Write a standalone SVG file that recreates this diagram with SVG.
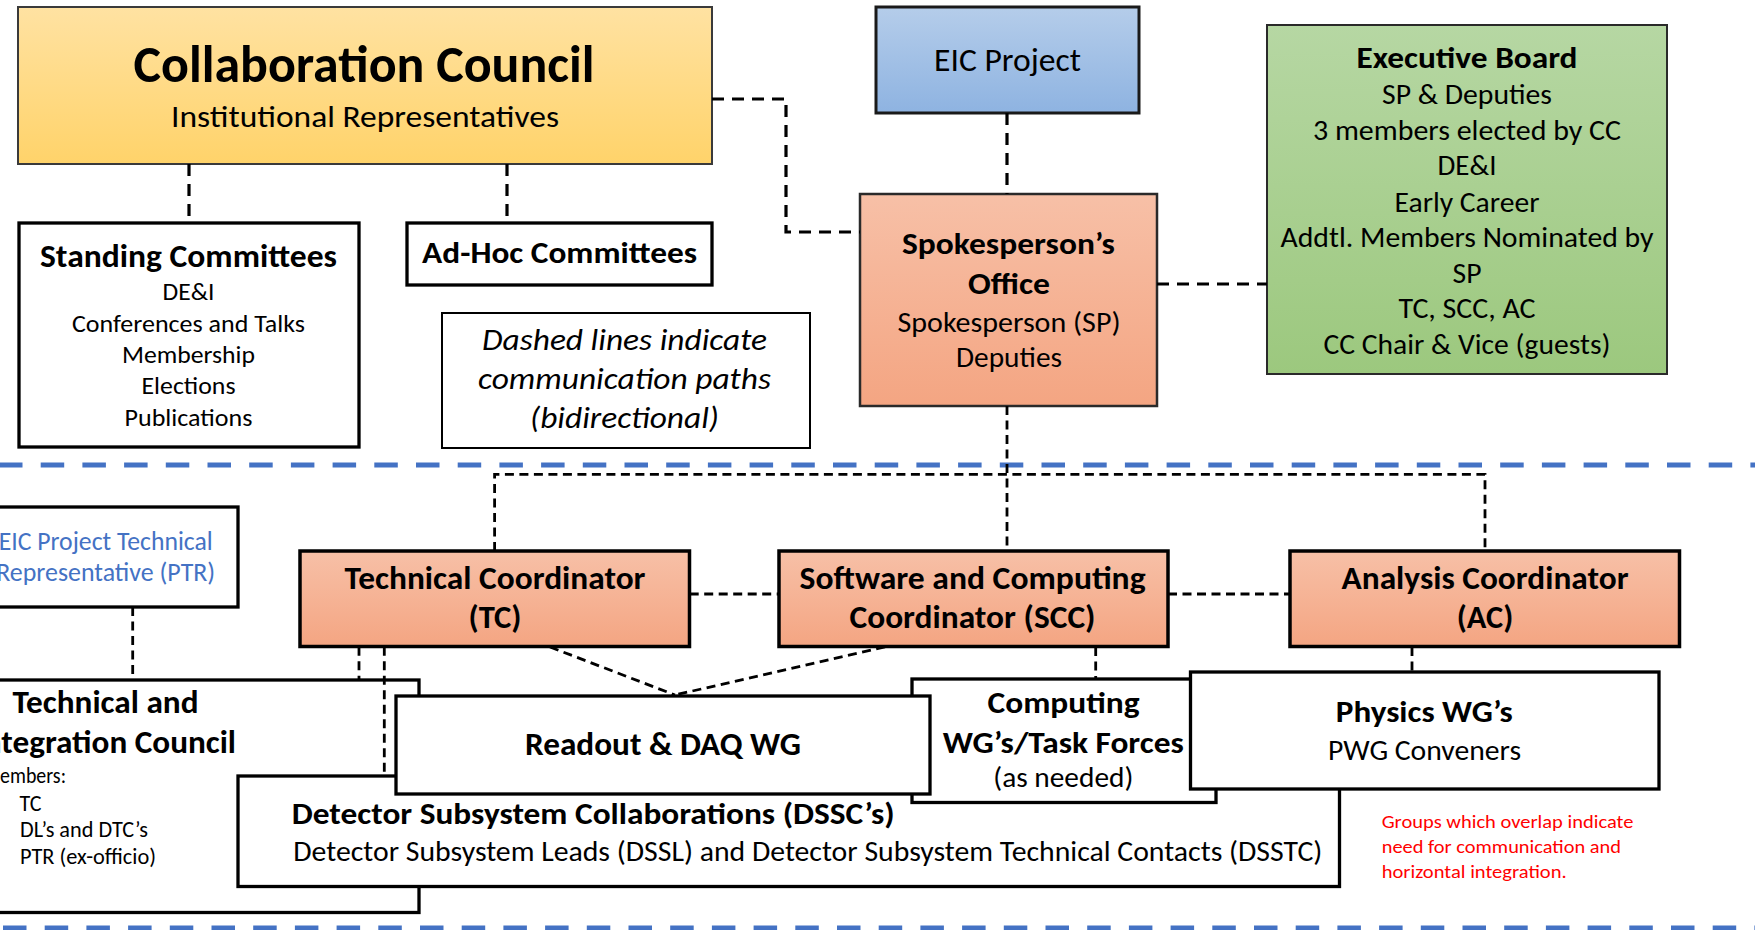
<svg xmlns="http://www.w3.org/2000/svg" width="1755" height="930" viewBox="0 0 1755 930">
<defs>
<linearGradient id="gGold" x1="0" y1="0" x2="0" y2="1"><stop offset="0" stop-color="#FFE2A2"/><stop offset="1" stop-color="#FFD36A"/></linearGradient>
<linearGradient id="gBlue" x1="0" y1="0" x2="0" y2="1"><stop offset="0" stop-color="#B5CDEA"/><stop offset="1" stop-color="#8EB3E1"/></linearGradient>
<linearGradient id="gSalmon" x1="0" y1="0" x2="0" y2="1"><stop offset="0" stop-color="#F7C0A7"/><stop offset="1" stop-color="#F4A582"/></linearGradient>
<linearGradient id="gGreen" x1="0" y1="0" x2="0" y2="1"><stop offset="0" stop-color="#B6D7A3"/><stop offset="1" stop-color="#9CC87E"/></linearGradient>
</defs>
<style>
text{font-family:Carlito,'Open Sans','Liberation Sans',sans-serif;fill:#000;}
.b{font-weight:bold;}
.c{text-anchor:middle;}
.i{font-style:italic;}
.box{fill:#fff;stroke:#000;stroke-width:3.3;}
.sal{fill:url(#gSalmon);stroke:#000;stroke-width:3.5;}
.dashA{fill:none;stroke:#000;stroke-width:3.2;stroke-dasharray:12 8;}
.dashB{fill:none;stroke:#000;stroke-width:2.8;stroke-dasharray:9 5.5;}
.sep{fill:none;stroke:#4472C4;stroke-width:5;stroke-dasharray:23.5 18.2;}
.ptr{fill:#4472C4;}
.red{fill:#FF0000;}
</style>
<rect width="1755" height="930" fill="#fff"/>

<g id="separators">
<line class="sep" x1="-1" y1="465" x2="1755" y2="465"/>
<line class="sep" x1="3" y1="928" x2="1755" y2="928"/>
</g>

<g id="collaboration-council">
<rect x="18" y="7" width="694" height="157" fill="url(#gGold)" stroke="#3a3a3a" stroke-width="2"/>
<text class="b c" x="364" y="82" font-size="53" textLength="461" lengthAdjust="spacingAndGlyphs">Collaboration Council</text>
<text class="c" x="365" y="127" font-size="30" textLength="388" lengthAdjust="spacingAndGlyphs">Institutional Representatives</text>
</g>

<g id="eic-project">
<rect x="876" y="7" width="263" height="106" fill="url(#gBlue)" stroke="#1a1a1a" stroke-width="3"/>
<text class="c" x="1007.5" y="71" font-size="32" textLength="147" lengthAdjust="spacingAndGlyphs">EIC Project</text>
</g>

<g id="spokespersons-office">
<rect x="860" y="194" width="297" height="212" fill="url(#gSalmon)" stroke="#2a2a2a" stroke-width="2.5"/>
<text class="b c" x="1008.5" y="254" font-size="31" textLength="213" lengthAdjust="spacingAndGlyphs">Spokesperson’s</text>
<text class="b c" x="1009" y="294" font-size="31" textLength="82" lengthAdjust="spacingAndGlyphs">Office</text>
<text class="c" x="1009" y="332" font-size="29" textLength="223" lengthAdjust="spacingAndGlyphs">Spokesperson (SP)</text>
<text class="c" x="1009" y="367" font-size="29" textLength="106" lengthAdjust="spacingAndGlyphs">Deputies</text>
</g>

<g id="executive-board">
<rect x="1267" y="25" width="400" height="349" fill="url(#gGreen)" stroke="#2a2a2a" stroke-width="2"/>
<text class="b c" x="1467" y="68" font-size="31" textLength="221" lengthAdjust="spacingAndGlyphs">Executive Board</text>
<text class="c" x="1467" y="104" font-size="28" textLength="170" lengthAdjust="spacingAndGlyphs">SP &amp; Deputies</text>
<text class="c" x="1467" y="140" font-size="28" textLength="308" lengthAdjust="spacingAndGlyphs">3 members elected by CC</text>
<text class="c" x="1467" y="175" font-size="28" textLength="59" lengthAdjust="spacingAndGlyphs">DE&amp;I</text>
<text class="c" x="1467" y="212" font-size="28" textLength="145" lengthAdjust="spacingAndGlyphs">Early Career</text>
<text class="c" x="1467" y="247" font-size="28" textLength="373" lengthAdjust="spacingAndGlyphs">Addtl. Members Nominated by</text>
<text class="c" x="1467" y="283" font-size="28" textLength="29" lengthAdjust="spacingAndGlyphs">SP</text>
<text class="c" x="1467" y="318" font-size="28" textLength="137" lengthAdjust="spacingAndGlyphs">TC, SCC, AC</text>
<text class="c" x="1467" y="354" font-size="28" textLength="287" lengthAdjust="spacingAndGlyphs">CC Chair &amp; Vice (guests)</text>
</g>

<g id="standing-committees">
<rect class="box" x="19" y="223" width="340" height="224"/>
<text class="b c" x="188.5" y="267" font-size="32" textLength="297" lengthAdjust="spacingAndGlyphs">Standing Committees</text>
<text class="c" x="188.5" y="300" font-size="23.5" textLength="52" lengthAdjust="spacingAndGlyphs">DE&amp;I</text>
<text class="c" x="188.5" y="332" font-size="23.5" textLength="233" lengthAdjust="spacingAndGlyphs">Conferences and Talks</text>
<text class="c" x="188.5" y="363" font-size="23.5" textLength="133" lengthAdjust="spacingAndGlyphs">Membership</text>
<text class="c" x="188.5" y="394" font-size="23.5" textLength="94" lengthAdjust="spacingAndGlyphs">Elections</text>
<text class="c" x="188.5" y="426" font-size="23.5" textLength="128" lengthAdjust="spacingAndGlyphs">Publications</text>
</g>

<g id="ad-hoc-committees">
<rect class="box" x="407" y="223" width="305" height="62"/>
<text class="b c" x="559.6" y="263" font-size="31" textLength="275" lengthAdjust="spacingAndGlyphs">Ad-Hoc Committees</text>
</g>

<g id="legend-note">
<rect x="442" y="313" width="368" height="135" fill="#fff" stroke="#000" stroke-width="2"/>
<text class="i c" x="624.5" y="350" font-size="30" textLength="285" lengthAdjust="spacingAndGlyphs">Dashed lines indicate</text>
<text class="i c" x="624.5" y="389" font-size="30" textLength="293" lengthAdjust="spacingAndGlyphs">communication paths</text>
<text class="i c" x="624.5" y="428" font-size="30" textLength="189" lengthAdjust="spacingAndGlyphs">(bidirectional)</text>
</g>

<g id="ptr">
<rect class="box" x="-28" y="507" width="266" height="100"/>
<text class="ptr c" x="105.7" y="550" font-size="27" textLength="214" lengthAdjust="spacingAndGlyphs">EIC Project Technical</text>
<text class="ptr c" x="105.7" y="581" font-size="27" textLength="219" lengthAdjust="spacingAndGlyphs">Representative (PTR)</text>
</g>

<g id="technical-coordinator">
<rect class="sal" x="300" y="551" width="389.5" height="95.5"/>
<text class="b c" x="495" y="589" font-size="32" textLength="301" lengthAdjust="spacingAndGlyphs">Technical Coordinator</text>
<text class="b c" x="495" y="628" font-size="32" textLength="53" lengthAdjust="spacingAndGlyphs">(TC)</text>
</g>

<g id="software-computing-coordinator">
<rect class="sal" x="779" y="551" width="389" height="95.5"/>
<text class="b c" x="972.6" y="589" font-size="32" textLength="346" lengthAdjust="spacingAndGlyphs">Software and Computing</text>
<text class="b c" x="972.5" y="628" font-size="32" textLength="246" lengthAdjust="spacingAndGlyphs">Coordinator (SCC)</text>
</g>

<g id="analysis-coordinator">
<rect class="sal" x="1290" y="551" width="389.5" height="95.5"/>
<text class="b c" x="1485" y="589" font-size="32" textLength="287" lengthAdjust="spacingAndGlyphs">Analysis Coordinator</text>
<text class="b c" x="1485" y="628" font-size="32" textLength="56.5" lengthAdjust="spacingAndGlyphs">(AC)</text>
</g>

<g id="technical-integration-council">
<rect class="box" x="-60" y="680" width="479" height="232.5"/>
<text class="b c" x="105.5" y="713" font-size="31.5" textLength="186" lengthAdjust="spacingAndGlyphs">Technical and</text>
<text class="b c" x="105.5" y="753" font-size="31.5" textLength="261" lengthAdjust="spacingAndGlyphs">Integration Council</text>
<text x="-17" y="783" font-size="22.5" textLength="83" lengthAdjust="spacingAndGlyphs">Members:</text>
<text x="19.5" y="811" font-size="22.5" textLength="22" lengthAdjust="spacingAndGlyphs">TC</text>
<text x="20" y="837" font-size="22.5" textLength="128" lengthAdjust="spacingAndGlyphs">DL’s and DTC’s</text>
<text x="20" y="864" font-size="22.5" textLength="136" lengthAdjust="spacingAndGlyphs">PTR (ex-officio)</text>
</g>

<g id="dssc">
<rect class="box" x="238" y="776" width="1101.5" height="110.5"/>
<text class="b" x="291.7" y="824" font-size="30.5" textLength="603" lengthAdjust="spacingAndGlyphs">Detector Subsystem Collaborations (DSSC’s)</text>
<text x="293.3" y="861" font-size="28" textLength="1029" lengthAdjust="spacingAndGlyphs">Detector Subsystem Leads (DSSL) and Detector Subsystem Technical Contacts (DSSTC)</text>
</g>

<g id="computing-wgs">
<rect class="box" x="912" y="679" width="304" height="123.5"/>
<text class="b c" x="1063.5" y="713" font-size="30.5" textLength="152" lengthAdjust="spacingAndGlyphs">Computing</text>
<text class="b c" x="1063.3" y="753" font-size="30.5" textLength="241" lengthAdjust="spacingAndGlyphs">WG’s/Task Forces</text>
<text class="c" x="1063.3" y="787" font-size="28" textLength="140" lengthAdjust="spacingAndGlyphs">(as needed)</text>
</g>

<g id="readout-daq-wg">
<rect class="box" x="396" y="696" width="534" height="98"/>
<text class="b c" x="663" y="755" font-size="31.5" textLength="276" lengthAdjust="spacingAndGlyphs">Readout &amp; DAQ WG</text>
</g>

<g id="physics-wgs">
<rect class="box" x="1190.5" y="672" width="468.5" height="117"/>
<text class="b c" x="1424.3" y="722" font-size="30.5" textLength="177" lengthAdjust="spacingAndGlyphs">Physics WG’s</text>
<text class="c" x="1424.5" y="760" font-size="28" textLength="193" lengthAdjust="spacingAndGlyphs">PWG Conveners</text>
</g>

<g id="overlap-note">
<text class="red" x="1381.7" y="828.3" font-size="18.5" textLength="251.7" lengthAdjust="spacingAndGlyphs">Groups which overlap indicate</text>
<text class="red" x="1381.7" y="852.7" font-size="18.5" textLength="239.3" lengthAdjust="spacingAndGlyphs">need for communication and</text>
<text class="red" x="1381.7" y="877.7" font-size="18.5" textLength="185" lengthAdjust="spacingAndGlyphs">horizontal integration.</text>
</g>

<g id="connectors">
<path class="dashA" d="M712,99 H786 V232 H860"/>
<path class="dashA" d="M189,164 V223"/>
<path class="dashA" d="M507,164 V223"/>
<path class="dashA" d="M1007,113 V194"/>
<path class="dashA" d="M1157,284 H1267"/>
<path class="dashB" d="M1007,406 V551"/>
<path class="dashB" d="M494.6,551 V474.3 H1485 V551"/>
<path class="dashB" d="M689.7,594 H779"/>
<path class="dashB" d="M1168,594 H1290"/>
<path class="dashB" d="M132.7,607 V680"/>
<path class="dashB" d="M359,646.7 V680"/>
<path class="dashB" d="M384.3,646.7 V776"/>
<path class="dashB" d="M550,647 L675,695"/>
<path class="dashB" d="M885,647 L675,695"/>
<path class="dashB" d="M1095.7,647 V679"/>
<path class="dashB" d="M1412,647 V672"/>
</g>
</svg>
